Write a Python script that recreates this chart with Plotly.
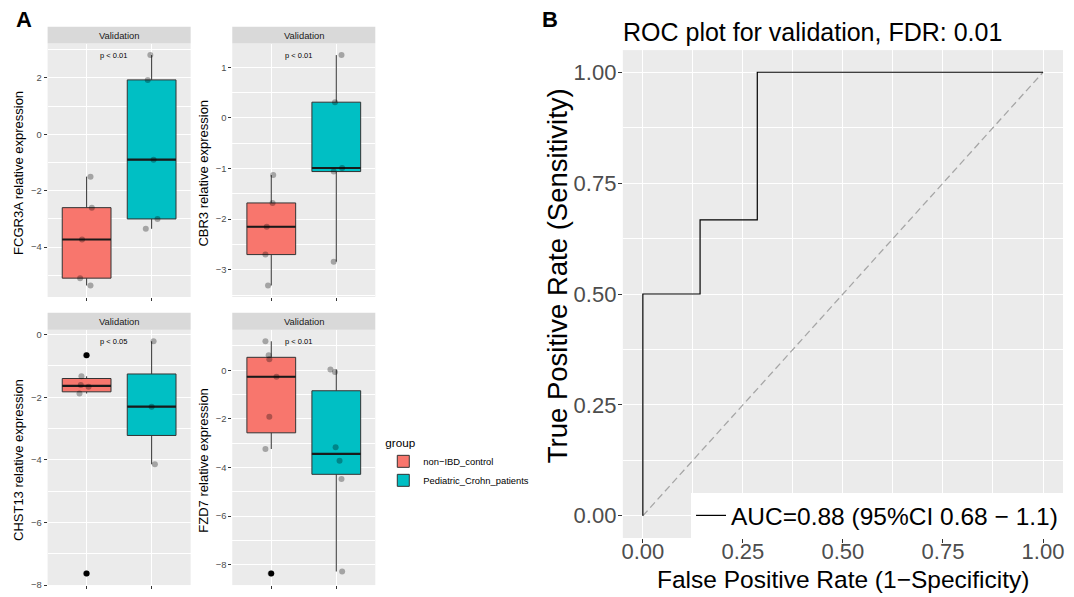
import numpy as np
import plotly.graph_objects as go

W, H = 1074, 597
FONT = "Liberation Sans, Arial, Helvetica, sans-serif"

# ---------------- data ----------------
groups = ["non\u2212IBD_control", "Pediatric_Crohn_patients"]
group_colors = ["#F8766D", "#00BFC4"]
genes = ["FCGR3A", "CBR3", "CHST13", "FZD7"]
pvals = ["p < 0.01", "p < 0.01", "p < 0.05", "p < 0.01"]
strip_label = "Validation"

fcgr3a_control = [-1.50, -2.60, -3.73, -5.10, -5.36]
fcgr3a_crohn = [2.81, 1.93, -0.90, -3.00, -3.35]
cbr3_control = [-1.13, -1.68, -2.15, -2.70, -3.31]
cbr3_crohn = [1.24, 0.31, -0.99, -1.06, -2.84]
chst13_control = [-0.66, -1.33, -1.61, -1.66, -1.88, -7.63]
chst13_crohn = [-0.21, -2.30, -4.14]
fzd7_control = [1.19, 0.61, 0.45, -0.27, -1.91, -3.24, -8.36]
fzd7_crohn = [0.03, -0.07, -3.17, -3.72, -4.47, -8.28]

# horizontal jitter of the points
jit_fcgr3a_control = [0.06, 0.08, -0.07, -0.10, 0.06]
jit_fcgr3a_crohn = [-0.02, -0.06, 0.03, 0.09, -0.09]
jit_cbr3_control = [0.03, 0.02, -0.07, -0.09, -0.05]
jit_cbr3_crohn = [0.08, -0.02, 0.09, -0.04, -0.04]
jit_chst13_control = [-0.01, -0.08, -0.09, 0.03, -0.11, -0.01]
jit_chst13_crohn = [0.03, 0.00, 0.05]
jit_fzd7_control = [-0.09, -0.04, -0.03, 0.08, -0.03, -0.09, -0.01]
jit_fzd7_crohn = [-0.09, -0.02, -0.01, 0.05, 0.08, 0.09]

values = [
    (fcgr3a_control, fcgr3a_crohn),
    (cbr3_control, cbr3_crohn),
    (chst13_control, chst13_crohn),
    (fzd7_control, fzd7_crohn),
]
jitters = [
    (jit_fcgr3a_control, jit_fcgr3a_crohn),
    (jit_cbr3_control, jit_cbr3_crohn),
    (jit_chst13_control, jit_chst13_crohn),
    (jit_fzd7_control, jit_fzd7_crohn),
]
y_dticks = [2, 1, 2, 2]

# ROC curve
roc_fpr = [0.0, 0.0, 0.143, 0.143, 0.286, 0.286, 1.0]
roc_tpr = [0.0, 0.5, 0.5, 0.667, 0.667, 1.0, 1.0]
diag_x = [0.0, 1.0]
diag_y = [0.0, 1.0]
roc_label = "AUC=0.88 (95%CI 0.68 \u2212 1.1)"
roc_title = "ROC plot for validation, FDR: 0.01"
roc_ticks = [0.0, 0.25, 0.5, 0.75, 1.0]

# ---------------- helpers ----------------
def fx(px):
    return px / W


def fy(py):
    return 1 - py / H


def box_stats(v):
    a = np.asarray(v, dtype=float)
    q1, med, q3 = np.percentile(a, [25, 50, 75])
    iqr = q3 - q1
    lo_f, hi_f = q1 - 1.5 * iqr, q3 + 1.5 * iqr
    inside = a[(a >= lo_f) & (a <= hi_f)]
    out = a[(a < lo_f) | (a > hi_f)]
    return q1, med, q3, inside.min(), inside.max(), out


# panel geometry in pixels: (x0, x1, y0, y1)
panels = [
    (46.7, 190.0, 43.0, 299.0),
    (231.7, 375.0, 43.0, 299.0),
    (46.7, 190.0, 332.0, 590.0),
    (231.7, 375.0, 332.0, 590.0),
]
strip_h = 17.0

fig = go.Figure()
layout = dict(
    width=W, height=H,
    margin=dict(l=0, r=0, t=0, b=0),
    paper_bgcolor="white",
    plot_bgcolor="#EBEBEB",
    font=dict(family=FONT, color="black"),
    shapes=[], annotations=[],
)

positions = [1, 2]
for i, gene in enumerate(genes):
    sfx = "" if i == 0 else str(i + 1)
    xa, ya = "x" + sfx, "y" + sfx
    x0, x1, y0, y1 = panels[i]
    allv = np.concatenate([np.asarray(v, float) for v in values[i]])
    span = allv.max() - allv.min()
    yr = [allv.min() - 0.05 * span, allv.max() + 0.05 * span]

    for g in range(2):
        v = values[i][g]
        pos = positions[g]
        q1, med, q3, lo, hi, out = box_stats(v)
        fig.add_trace(go.Box(
            x=[pos], q1=[q1], median=[med], q3=[q3],
            lowerfence=[lo], upperfence=[hi],
            width=0.75, whiskerwidth=0, boxpoints=False,
            fillcolor=group_colors[g],
            line=dict(color="#333333", width=1),
            name=groups[g], legendgroup=groups[g],
            showlegend=(i == 0), legend="legend",
            xaxis=xa, yaxis=ya, hoverinfo="skip",
        ))
        fig.add_trace(go.Scatter(
            x=[pos - 0.375, pos + 0.375], y=[med, med], mode="lines",
            line=dict(color="#1A1A1A", width=2.2),
            showlegend=False, xaxis=xa, yaxis=ya, hoverinfo="skip",
        ))
        if len(out):
            fig.add_trace(go.Scatter(
                x=[pos] * len(out), y=out, mode="markers",
                marker=dict(color="black", size=6),
                showlegend=False, xaxis=xa, yaxis=ya, hoverinfo="skip",
            ))
        fig.add_trace(go.Scatter(
            x=[pos + j for j in jitters[i][g]], y=v, mode="markers",
            marker=dict(color="rgba(0,0,0,0.3)", size=6),
            showlegend=False, xaxis=xa, yaxis=ya, hoverinfo="skip",
        ))

    layout["xaxis" + sfx] = dict(
        domain=[fx(x0), fx(x1)], range=[0.4, 2.6], anchor=ya,
        tickvals=positions, showticklabels=False,
        ticks="outside", ticklen=3, tickcolor="#333333", tickwidth=1,
        showgrid=True, gridcolor="white", gridwidth=1,
        zeroline=False, showline=False, fixedrange=True,
    )
    layout["yaxis" + sfx] = dict(
        domain=[fy(y1), fy(y0)], range=yr, anchor=xa,
        tick0=0, dtick=y_dticks[i],
        ticks="outside", ticklen=3, tickcolor="#333333", tickwidth=1,
        tickfont=dict(size=9.4, color="#4D4D4D"),
        showgrid=True, gridcolor="white", gridwidth=1,
        minor=dict(tick0=0, dtick=y_dticks[i] / 2, showgrid=True,
                   gridcolor="white", gridwidth=0.5),
        zeroline=False, showline=False, fixedrange=True,
    )
    # strip
    layout["shapes"].append(dict(
        type="rect", xref="paper", yref="paper",
        x0=fx(x0), x1=fx(x1), y0=fy(y0), y1=fy(y0 - strip_h),
        fillcolor="#D9D9D9", line=dict(width=0), layer="below",
    ))
    layout["annotations"].append(dict(
        text=strip_label, xref="paper", yref="paper",
        x=fx((x0 + x1) / 2), y=fy(y0 - strip_h / 2),
        xanchor="center", yanchor="middle", showarrow=False,
        font=dict(size=9.4, color="#1A1A1A"),
    ))
    # axis title
    layout["annotations"].append(dict(
        text=f"{gene} relative expression", xref="paper", yref="paper",
        x=fx(x0 - 29), y=fy((y0 + y1) / 2 + 3), textangle=-90,
        xanchor="center", yanchor="middle", showarrow=False,
        font=dict(size=13, color="black"),
    ))
    # p value
    layout["annotations"].append(dict(
        text=pvals[i], xref=xa, yref=ya, x=1.42, y=float(allv.max()),
        xanchor="center", yanchor="middle", showarrow=False,
        font=dict(size=7.5, color="black"),
    ))

# ---------------- ROC panel ----------------
bx0, bx1, by0, by1 = 623.0, 1064.0, 49.6, 542.4
fig.add_trace(go.Scatter(
    x=diag_x, y=diag_y, mode="lines",
    line=dict(color="#A6A6A6", width=1.3, dash="7px,4px"),
    showlegend=False, xaxis="x5", yaxis="y5", hoverinfo="skip",
))
fig.add_trace(go.Scatter(
    x=roc_fpr, y=roc_tpr, mode="lines",
    line=dict(color="black", width=1.2),
    name=roc_label, showlegend=True, legend="legend2",
    xaxis="x5", yaxis="y5", hoverinfo="skip",
))
common_b = dict(
    range=[-0.05, 1.05], tickvals=roc_ticks, tickformat=".2f",
    ticks="outside", ticklen=4, tickcolor="#333333", tickwidth=1,
    tickfont=dict(size=22, color="#4D4D4D"),
    showgrid=True, gridcolor="white", gridwidth=1.2,
    minor=dict(tick0=0, dtick=0.125, showgrid=True, gridcolor="white", gridwidth=0.6),
    zeroline=False, showline=False, fixedrange=True,
)
layout["xaxis5"] = dict(domain=[fx(bx0), fx(bx1)], anchor="y5",
                        ticklabelstandoff=-10, **common_b)
layout["yaxis5"] = dict(domain=[fy(by1), fy(by0)], anchor="x5",
                        ticklabelstandoff=-3, **common_b)

layout["annotations"] += [
    dict(text=roc_title, xref="paper", yref="paper", x=fx(621), y=fy(31),
         xanchor="left", yanchor="middle", showarrow=False,
         font=dict(size=25, color="black")),
    dict(text="True Positive Rate (Sensitivity)", xref="paper", yref="paper",
         x=fx(557), y=fy((by0 + by1) / 2 - 19), textangle=-90,
         xanchor="center", yanchor="middle", showarrow=False,
         font=dict(size=27.5, color="black")),
    dict(text="False Positive Rate (1\u2212Specificity)", xref="paper", yref="paper",
         x=fx((bx0 + bx1) / 2), y=fy(584), xanchor="center", yanchor="middle",
         showarrow=False, font=dict(size=24.5, color="black")),
    dict(text="<b>A</b>", xref="paper", yref="paper", x=fx(13), y=fy(19),
         xanchor="left", yanchor="middle", showarrow=False,
         font=dict(size=22, color="black")),
    dict(text="<b>B</b>", xref="paper", yref="paper", x=fx(540), y=fy(19),
         xanchor="left", yanchor="middle", showarrow=False,
         font=dict(size=22, color="black")),
]

layout["legend"] = dict(
    x=fx(383), y=fy(435), xanchor="left", yanchor="top",
    bgcolor="rgba(255,255,255,0)", borderwidth=0,
    title=dict(text="group", font=dict(size=11.7, color="black")),
    font=dict(size=9.4, color="black"), itemwidth=30, traceorder="normal",
)
layout["legend2"] = dict(
    x=fx(bx1), y=fy(by1), xanchor="right", yanchor="bottom",
    bgcolor="white", borderwidth=0,
    font=dict(size=24.5, color="black"), itemwidth=30,
)
layout["showlegend"] = True

fig.update_layout(**layout)
fig.write_html("out.html")
